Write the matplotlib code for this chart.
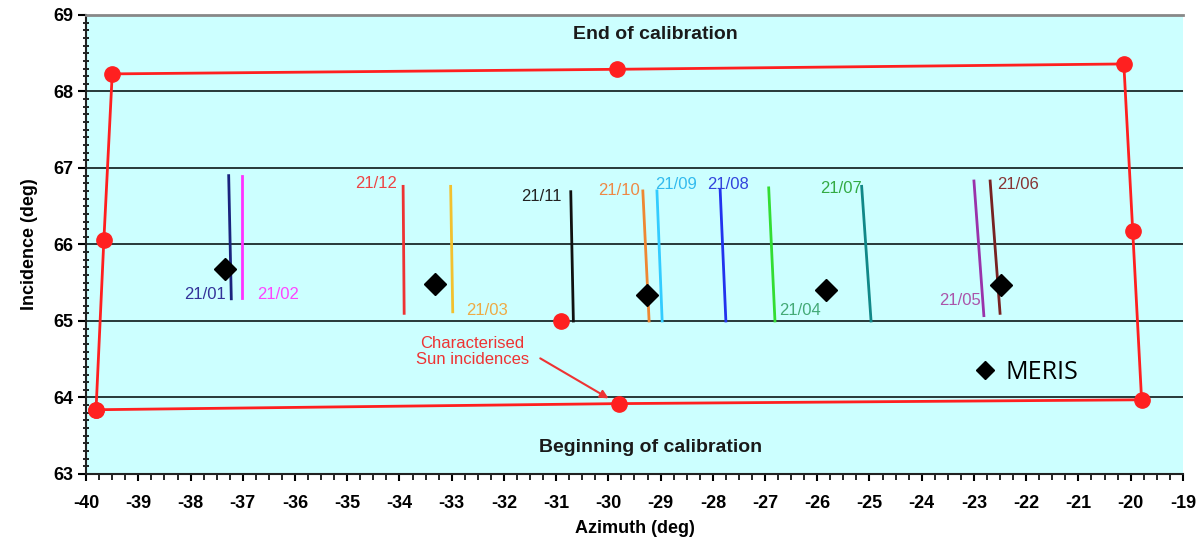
import matplotlib
matplotlib.use('Agg')
import matplotlib.pyplot as plt
from matplotlib.ticker import MultipleLocator

plt.rcParams['font.family'] = ['Liberation Sans', 'DejaVu Sans']
plt.rcParams['axes.unicode_minus'] = False

# characterised sun incidences (red polygon)
poly_az = [-39.81, -39.66, -39.50, -29.84, -20.13, -19.96, -19.79, -29.80, -39.81]
poly_inc = [63.84, 66.06, 68.23, 68.29, 68.36, 66.18, 63.97, 63.92, 63.84]
extra_az = [-30.91]
extra_inc = [65.0]

# monthly traces: label, colour, (top az, bottom az), (top inc, bottom inc)
months = ['21/01', '21/02', '21/12', '21/03', '21/11', '21/10',
          '21/09', '21/08', '21/04', '21/07', '21/05', '21/06']
line_colors = ['#1a237e', '#ff33ff', '#ee3333', '#f2c12e', '#111111', '#ee8833',
               '#33ccff', '#2233ee', '#33dd33', '#118888', '#9933aa', '#772222']
label_colors = ['#333399', '#ff44ff', '#ee4444', '#eeaa44', '#222222', '#ee8844',
                '#33bbee', '#3344dd', '#44aa77', '#33aa44', '#aa55aa', '#883333']
top_az = [-37.27, -37.01, -33.93, -33.02, -30.72, -29.34, -29.07, -27.86, -26.93, -25.15, -23.00, -22.69]
bot_az = [-37.22, -37.01, -33.91, -32.98, -30.67, -29.22, -28.97, -27.75, -26.81, -24.97, -22.81, -22.50]
top_inc = [66.90, 66.90, 66.76, 66.76, 66.69, 66.70, 66.70, 66.72, 66.74, 66.76, 66.83, 66.83]
bot_inc = [65.29, 65.30, 65.10, 65.12, 65.00, 65.00, 65.00, 65.00, 65.00, 65.00, 65.07, 65.10]
label_az = [-37.72, -36.32, -34.45, -32.32, -31.29, -29.80, -28.70, -27.71, -26.33, -25.55, -23.27, -22.16]
label_inc = [65.34, 65.35, 66.80, 65.14, 66.63, 66.71, 66.78, 66.78, 65.14, 66.73, 65.27, 66.78]

# MERIS points
meris_az = [-37.34, -33.32, -29.26, -25.83, -22.48]
meris_inc = [65.68, 65.48, 65.34, 65.41, 65.47]

fig = plt.figure(figsize=(11.96, 5.39), dpi=100)
ax = fig.add_axes([0.072, 0.1206, 0.917, 0.8516])
ax.set_facecolor('#ccffff')

for y in [64, 65, 66, 67, 68]:
    ax.axhline(y, color='#1a2a2a', lw=1.3, zorder=1)

for i in range(len(months)):
    ax.plot([top_az[i], bot_az[i]], [top_inc[i], bot_inc[i]], color=line_colors[i], lw=2, zorder=2)
    ax.text(label_az[i], label_inc[i], months[i], color=label_colors[i], fontsize=12,
            ha='center', va='center', zorder=3)

ax.plot(poly_az, poly_inc, color='#ff2020', lw=2, marker='o', ms=11, zorder=4)
ax.plot(extra_az, extra_inc, color='#ff2020', ls='none', marker='o', ms=11, zorder=4)
ax.plot(meris_az, meris_inc, ls='none', marker='D', ms=11, color='black', zorder=5, label='MERIS')

ax.text(-29.1, 68.74, 'End of calibration', fontsize=14, fontweight='bold', ha='center', va='center', color='#1a1a1a')
ax.text(-29.2, 63.34, 'Beginning of calibration', fontsize=14, fontweight='bold', ha='center', va='center', color='#1a1a1a')
ax.text(-32.6, 64.6, 'Characterised\nSun incidences', fontsize=12, color='#ee3333', ha='center', va='center',
        linespacing=1.1)
ax.annotate('', xy=(-29.95, 63.97), xytext=(-31.35, 64.53),
            arrowprops=dict(arrowstyle='-|>', color='#ee3333', lw=1.5, mutation_scale=12))

leg = ax.legend(loc='center left', bbox_to_anchor=(0.797, 0.222), frameon=False,
                handletextpad=0.3, handlelength=1.0, borderpad=0,
                prop={'family': 'Open Sans', 'size': 18})
for h in leg.legend_handles:
    h.set_markersize(9)

ax.set_xlim(-40, -19)
ax.set_ylim(63, 69)
ax.xaxis.set_major_locator(MultipleLocator(1))
ax.xaxis.set_minor_locator(MultipleLocator(0.25))
ax.yaxis.set_major_locator(MultipleLocator(1))
ax.yaxis.set_minor_locator(MultipleLocator(0.1))
ax.tick_params(axis='x', which='major', direction='out', length=5, width=1.5, labelsize=13, pad=10)
ax.tick_params(axis='x', which='minor', direction='out', length=4, width=1.2)
ax.tick_params(axis='y', which='major', direction='out', length=6, width=1.5, labelsize=13)
ax.tick_params(axis='y', which='minor', direction='inout', length=5, width=1.2)
for lab in ax.get_xticklabels() + ax.get_yticklabels():
    lab.set_fontweight('bold')

ax.spines['right'].set_visible(False)
ax.spines['top'].set_color('#888888')
ax.spines['top'].set_linewidth(2)
ax.spines['left'].set_color('#222222')
ax.spines['left'].set_linewidth(1.5)
ax.spines['bottom'].set_color('#222222')
ax.spines['bottom'].set_linewidth(1.5)

ax.set_xlabel('Azimuth (deg)', fontsize=13, fontweight='bold', labelpad=6)
ax.set_ylabel('Incidence (deg)', fontsize=13, fontweight='bold', labelpad=11)

fig.savefig('out.png', dpi=100)
